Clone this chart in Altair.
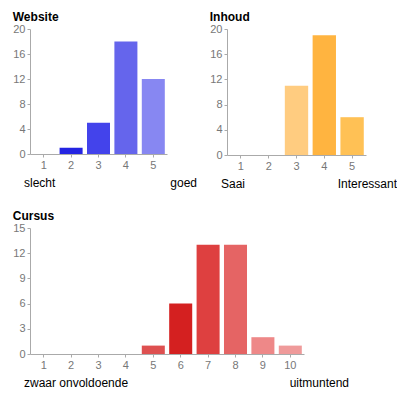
import altair as alt
import pandas as pd

# Website
web_cats = ["1", "2", "3", "4", "5"]
web_vals = [0, 1, 5, 18, 12]
web_cols = ["#1f1fe0", "#2424e2", "#4343eb", "#6565ec", "#8787f2"]

# Inhoud
inh_cats = ["1", "2", "3", "4", "5"]
inh_vals = [0, 0, 11, 19, 6]
inh_cols = ["#ffd699", "#ffd699", "#ffcc80", "#ffb440", "#ffc155"]

# Cursus
cur_cats = ["1", "2", "3", "4", "5", "6", "7", "8", "9", "10"]
cur_vals = [0, 0, 0, 0, 1, 6, 13, 13, 2, 1]
cur_cols = ["#e05050", "#e05050", "#e05050", "#e05050", "#de5050",
            "#d42020", "#de4040", "#e56464", "#ee8888", "#ef9a9a"]

FONT = "Liberation Sans"


def panel(title, cats, vals, cols, ymax, step, low, high, width, height, right_off):
    df = pd.DataFrame({"cat": cats, "val": vals})
    bars = alt.Chart(df).mark_bar().encode(
        x=alt.X("cat:N", sort=cats, title=None,
                scale=alt.Scale(paddingInner=0.16, paddingOuter=0.08),
                axis=alt.Axis(labelAngle=0, tickSize=3, labelPadding=2,
                              domainColor="#aaaaaa", tickColor="#aaaaaa",
                              labelColor="#777777", labelFontSize=11, labelFont=FONT)),
        y=alt.Y("val:Q", title=None,
                scale=alt.Scale(domain=[0, ymax], nice=False),
                axis=alt.Axis(values=list(range(0, ymax + 1, step)), grid=False,
                              tickSize=3, labelPadding=2,
                              domainColor="#aaaaaa", tickColor="#aaaaaa",
                              labelColor="#777777", labelFontSize=11, labelFont=FONT)),
        color=alt.Color("cat:N", sort=cats, legend=None,
                        scale=alt.Scale(domain=cats, range=cols)),
    )
    lab = pd.DataFrame({"t": [low]})
    lab2 = pd.DataFrame({"t": [high]})
    t1 = alt.Chart(lab).mark_text(align="left", baseline="middle", fontSize=12,
                                  font=FONT, color="#000000").encode(
        text="t:N", x=alt.value(-6), y=alt.value(height + 29))
    t2 = alt.Chart(lab2).mark_text(align="right", baseline="middle", fontSize=12,
                                   font=FONT, color="#000000").encode(
        text="t:N", x=alt.value(width + right_off), y=alt.value(height + 29))
    return alt.layer(bars, t1, t2).properties(
        width=width, height=height,
        title=alt.TitleParams(title, anchor="start", frame="bounds", fontSize=12,
                              font=FONT, fontWeight="bold", color="#000000", offset=-1),
    )


w = panel("Website", web_cats, web_vals, web_cols, 20, 4, "slecht", "goed", 137, 125, 30)
i = panel("Inhoud", inh_cats, inh_vals, inh_cols, 20, 4, "Saai", "Interessant", 139, 126, 31)
c = panel("Cursus", cur_cats, cur_vals, cur_cols, 15, 3, "zwaar onvoldoende", "uitmuntend", 274, 126, 45)

top = alt.hconcat(w, i, spacing=60, bounds="flush").resolve_scale(
    color="independent", x="independent", y="independent")
chart = alt.vconcat(top, c, spacing=20).resolve_scale(
    color="independent", x="independent", y="independent"
).properties(
    padding={"left": 4, "top": 3, "right": 0, "bottom": 0}
).configure_view(stroke=None)

chart.save("out.html", embed_options={"renderer": "svg", "actions": False})
